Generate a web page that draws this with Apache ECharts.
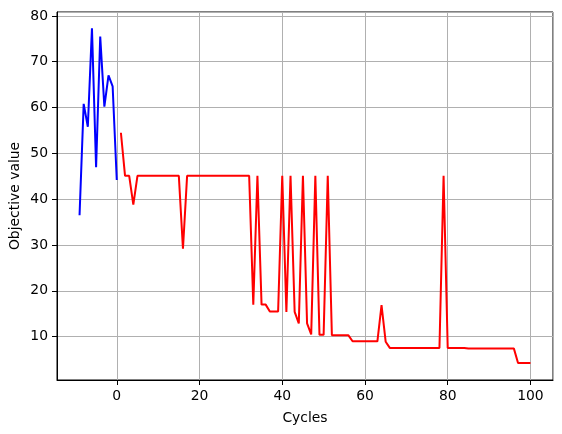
<!DOCTYPE html>
<html>
<head>
<meta charset="utf-8">
<script src="https://cdn.jsdelivr.net/npm/echarts@6/dist/echarts.min.js"></script>
<style>
    html, body { margin: 0; padding: 0; background: #fff; }
    #chart { width: 562px; height: 434px; }
</style>
</head>
<body>
<div id="chart"></div>
<script>
    // blue part: cycles -9..0
    let blueCycles = [-9, -8, -7, -6, -5, -4, -3, -2, -1, 0];
    let blueValues = [36.5, 60.8, 55.8, 77.3, 47.0, 75.5, 60.2, 67.0, 64.6, 44.2];

    // red part: cycles 1..100
    let redCycles = [];
    for (let i = 1; i <= 100; i++) redCycles.push(i);
    let redValues = [
        54.5, 45.1, 45.1, 38.8, 45.1, 45.1, 45.1, 45.1, 45.1, 45.1,   // 1-10
        45.1, 45.1, 45.1, 45.1, 45.1, 29.2, 45.1, 45.1, 45.1, 45.1,   // 11-20
        45.1, 45.1, 45.1, 45.1, 45.1, 45.1, 45.1, 45.1, 45.1, 45.1,   // 21-30
        45.1, 45.1, 17.0, 45.1, 17.0, 17.0, 15.5, 15.5, 15.5, 45.1,   // 31-40
        15.4, 45.1, 15.4, 12.9, 45.1, 12.9, 10.5, 45.1, 10.4, 10.4,   // 41-50
        45.1, 10.3, 10.3, 10.3, 10.3, 10.3, 9.0, 9.0, 9.0, 9.0,       // 51-60
        9.0, 9.0, 9.0, 16.9, 8.9, 7.55, 7.55, 7.55, 7.55, 7.55,       // 61-70
        7.55, 7.55, 7.55, 7.55, 7.55, 7.55, 7.55, 7.55, 45.1, 7.55,   // 71-80
        7.55, 7.55, 7.55, 7.55, 7.4, 7.4, 7.4, 7.4, 7.4, 7.4,         // 81-90
        7.4, 7.4, 7.4, 7.4, 7.4, 7.4, 4.25, 4.25, 4.25, 4.25          // 91-100
    ];

    function pairs(xs, ys) {
        let result = [];
        for (let i = 0; i < xs.length; i++) {
            result.push([xs[i], ys[i]]);
        }
        return result;
    }

    let font = 'DejaVu Sans';
    let chart = echarts.init(document.getElementById('chart'));
    chart.setOption({
        animation: false,
        backgroundColor: '#fff',
        grid: {
            left: 57, top: 12, width: 496, height: 368,
            containLabel: false, outerBoundsMode: 'none',
            show: true, borderColor: '#000', borderWidth: 1, backgroundColor: '#fff'
        },
        xAxis: {
            type: 'value',
            min: -14.45,
            max: 105.45,
            splitNumber: 6,
            name: 'Cycles',
            nameLocation: 'middle',
            nameGap: 31,
            nameMoveOverlap: false,
            nameTextStyle: {color: '#000', fontFamily: font, fontSize: 13.9},
            axisLine: {show: true, onZero: false, lineStyle: {color: '#000', width: 1}},
            axisTick: {show: true, inside: false, length: 5, lineStyle: {color: '#000', width: 1}},
            axisLabel: {
                color: '#000', fontFamily: font, fontSize: 13.9, margin: 9,
                showMinLabel: false, showMaxLabel: false,
                formatter: function (v) { return v % 20 === 0 ? String(v) : ''; }
            },
            splitLine: {show: true, lineStyle: {color: '#b0b0b0', width: 1}}
        },
        yAxis: {
            type: 'value',
            min: 0.55,
            max: 80.85,
            splitNumber: 8,
            name: 'Objective value',
            nameLocation: 'middle',
            nameGap: 35,
            nameMoveOverlap: false,
            nameRotate: 90,
            nameTextStyle: {color: '#000', fontFamily: font, fontSize: 13.9},
            axisLine: {show: true, onZero: false, lineStyle: {color: '#000', width: 1}},
            axisTick: {show: true, inside: false, length: 5, lineStyle: {color: '#000', width: 1}},
            axisLabel: {
                color: '#000', fontFamily: font, fontSize: 13.9, margin: 9,
                showMinLabel: false, showMaxLabel: false,
                formatter: function (v) { return v % 10 === 0 ? String(v) : ''; }
            },
            splitLine: {show: true, lineStyle: {color: '#b0b0b0', width: 1}}
        },
        series: [
            {
                name: 'blue',
                type: 'line',
                data: pairs(blueCycles, blueValues),
                showSymbol: false,
                lineStyle: {color: '#0000ff', width: 2},
                itemStyle: {color: '#0000ff'}
            },
            {
                name: 'red',
                type: 'line',
                data: pairs(redCycles, redValues),
                showSymbol: false,
                lineStyle: {color: '#ff0000', width: 2},
                itemStyle: {color: '#ff0000'}
            }
        ]
    });
</script>
</body>
</html>
